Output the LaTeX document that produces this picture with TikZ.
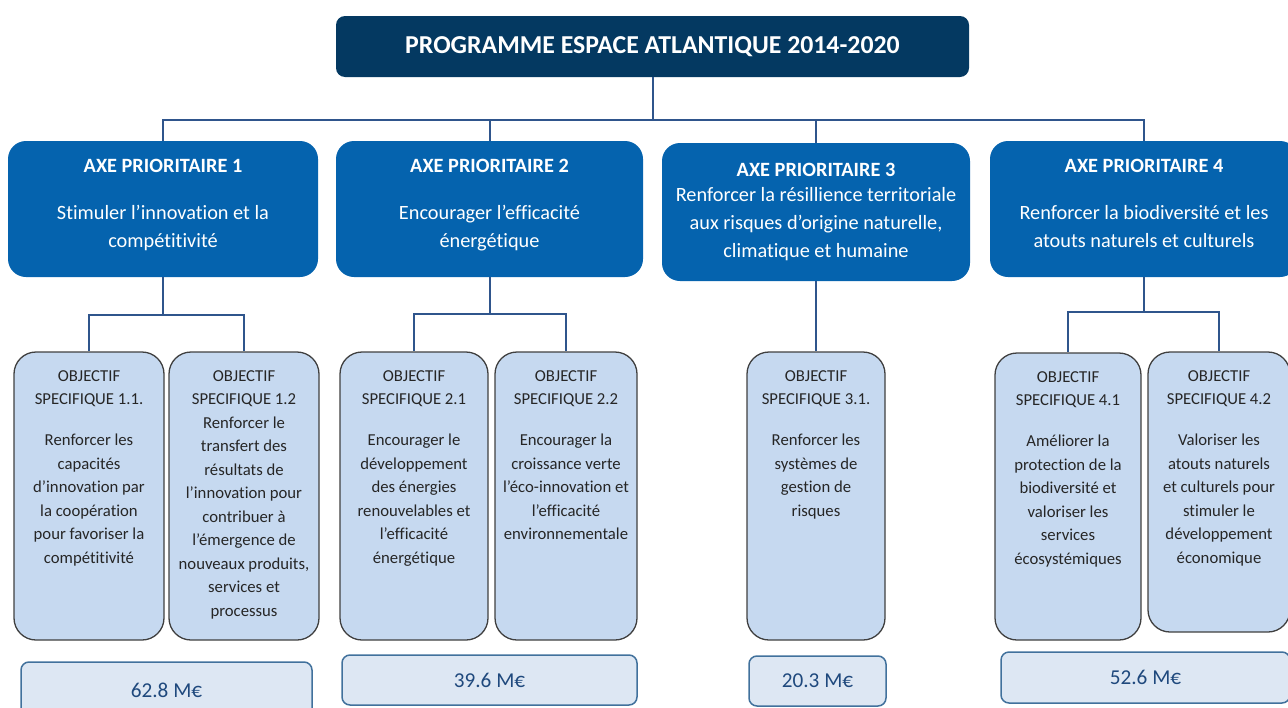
\documentclass[tikz,border=0pt]{standalone}
\usepackage{fontspec}
\setmainfont{Carlito}[Ligatures=NoCommon]
\usetikzlibrary{positioning}
\definecolor{darknavy}{RGB}{4,57,97}
\definecolor{axeblue}{RGB}{5,99,174}
\definecolor{paleblue}{RGB}{198,217,240}
\definecolor{lightblue}{RGB}{221,231,243}
\definecolor{linkblue}{RGB}{47,85,140}
\definecolor{budgetblue}{RGB}{65,113,156}
\definecolor{budgettext}{RGB}{31,73,125}
\definecolor{objgray}{RGB}{38,38,38}
\tikzset{programmenode/.style={rectangle, rounded corners=9pt, fill=darknavy, text=white, font=\fontsize{25.8}{30}\selectfont\bfseries, inner sep=0pt, minimum width=633pt, minimum height=61pt},axenode/.style={rectangle, rounded corners=18pt, fill=axeblue, text=white, align=center, font=\fontsize{20.3}{28}\selectfont, inner sep=0pt, minimum height=136pt}}
\tikzset{objnode/.style={rectangle, rounded corners=22pt, fill=paleblue, draw=black!75, line width=1.3pt, inner sep=0pt, text=objgray, font=\fontsize{16.7}{23.5}\selectfont, minimum height=288pt},budgetnode/.style={rectangle, rounded corners=8pt, fill=lightblue, draw=budgetblue, line width=1.5pt, inner sep=0pt, text=budgettext, font=\fontsize{21.2}{24}\selectfont, minimum height=50pt}}
\newcommand{\objtext}[2]{\parbox[c][#1pt][t]{136pt}{\centering\vspace*{18.5pt}#2}}
\newcommand{\axelift}{\rule[-11pt]{0pt}{1pt}}

\begin{document}
\begin{tikzpicture}[
        x=1pt, y=-1pt,
        link/.style={draw=linkblue, line width=2pt},
    ]
        \useasboundingbox (0,0) rectangle (1288,707);
        % Programme
        \node[programmenode] (prog) at (652.5,46.5) {PROGRAMME ESPACE ATLANTIQUE 2014-2020};
        % Axes
        \node[axenode, minimum width=310pt] (axe1) at (163,209) {\textbf{AXE PRIORITAIRE 1}\\[19pt]Stimuler l’innovation et la\\compétitivité\axelift};
        \node[axenode, minimum width=307pt] (axe2) at (489.5,209) {\textbf{AXE PRIORITAIRE 2}\\[19pt]Encourager l’efficacité\\énergétique\axelift};
        \node[axenode, minimum width=308pt, minimum height=138pt] (axe3) at (816,212) {\textbf{AXE PRIORITAIRE 3}\\[-3pt]Renforcer la résillience territoriale\\aux risques d’origine naturelle,\\climatique et humaine};
        \node[axenode, minimum width=308pt] (axe4) at (1144,209) {\textbf{AXE PRIORITAIRE 4}\\[19pt]Renforcer la biodiversité et les\\atouts naturels et culturels\axelift};
        % Objectifs
        \node[objnode, minimum width=150pt] (obj11) at (89,496) {\objtext{288}{OBJECTIF\\SPECIFIQUE 1.1.\\[17.5pt]Renforcer les\\capacités\\d’innovation par\\la coopération\\pour favoriser la\\compétitivité}};
        \node[objnode, minimum width=150pt] (obj12) at (244,496) {\objtext{288}{OBJECTIF\\SPECIFIQUE 1.2\\Renforcer le\\transfert des\\résultats de\\l’innovation pour\\contribuer à\\l’émergence de\\nouveaux produits,\\services et\\processus}};
        \node[objnode, minimum width=148pt] (obj21) at (414,496) {\objtext{288}{OBJECTIF\\SPECIFIQUE 2.1\\[17.5pt]Encourager le\\développement\\des énergies\\renouvelables et\\l’efficacité\\énergétique}};
        \node[objnode, minimum width=142pt] (obj22) at (566,496) {\objtext{288}{OBJECTIF\\SPECIFIQUE 2.2\\[17.5pt]Encourager la\\croissance verte\\l’éco-innovation et\\l’efficacité\\environnementale}};
        \node[objnode, minimum width=138pt] (obj31) at (816,496) {\objtext{288}{OBJECTIF\\SPECIFIQUE 3.1.\\[17.5pt]Renforcer les\\systèmes de\\gestion de\\risques}};
        \node[objnode, minimum width=146pt, minimum height=287pt] (obj41) at (1068,496.5) {\objtext{287}{OBJECTIF\\SPECIFIQUE 4.1\\[17.5pt]Améliorer la\\protection de la\\biodiversité et\\valoriser les\\services\\écosystémiques}};
        \node[objnode, minimum width=142pt, minimum height=280pt] (obj42) at (1219,492) {\objtext{280}{OBJECTIF\\SPECIFIQUE 4.2\\[17.5pt]Valoriser les\\atouts naturels\\et culturels pour\\stimuler le\\développement\\économique}};
        % Budgets
        \node[budgetnode, minimum width=291pt, minimum height=56pt] (budget1) at (166.5,690) {62.8 M€};
        \node[budgetnode, minimum width=295pt] (budget2) at (489.5,680) {39.6 M€};
        \node[budgetnode, minimum width=137pt] (budget3) at (817.5,681) {20.3 M€};
        \node[budgetnode, minimum width=289pt, minimum height=51pt] (budget4) at (1145.5,677.5) {52.6 M€};
        % Links
        \coordinate (bus) at ([yshift=-43pt]prog.south);
        \draw[link] (prog.south) -- (bus);
        \foreach \n in {1,...,4} {
            \draw[link] (bus) -| (axe\n.north);
        }
        \coordinate (fork1) at ([yshift=-38pt]axe1.south);
        \coordinate (fork2) at ([yshift=-37pt]axe2.south);
        \coordinate (fork4) at ([yshift=-35pt]axe4.south);
        \draw[link] (axe1.south) -- (fork1) -| (obj11.north);
        \draw[link] (fork1) -| (obj12.north);
        \draw[link] (axe2.south) -- (fork2) -| (obj21.north);
        \draw[link] (fork2) -| (obj22.north);
        \draw[link] (axe3.south) -- (obj31.north);
        \draw[link] (axe4.south) -- (fork4) -| (obj41.north);
        \draw[link] (fork4) -| (obj42.north);
    \end{tikzpicture}
\end{document}
